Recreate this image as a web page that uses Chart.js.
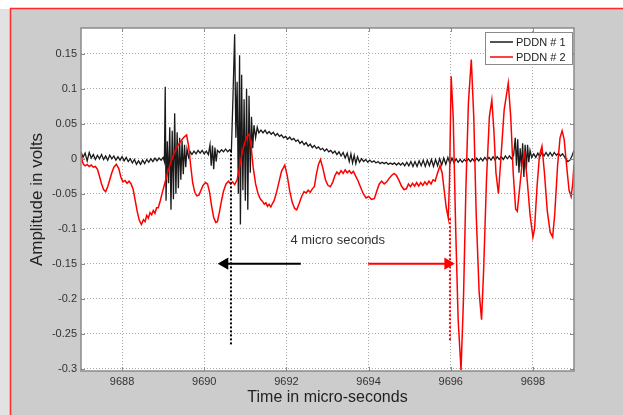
<!DOCTYPE html>
<html>
<head>
<meta charset="utf-8">
<script src="https://cdn.jsdelivr.net/npm/chart.js@4.4.1/dist/chart.umd.min.js"></script>
<style>
  html, body { margin: 0; padding: 0; background: #fff; }
  #wrap { width: 623px; height: 415px; position: relative; }
</style>
</head>
<body>
<div id="wrap"><canvas id="pddnChart"></canvas></div>
<script>
// [time in micro seconds, amplitude in volts]
const pddn1 = [
  [9687.00, 0.010], [9687.05, 0.002], [9687.10, 0.008], [9687.15, -0.003], [9687.20, 0.009],
  [9687.25, 0.001], [9687.30, 0.006], [9687.35, -0.001], [9687.40, 0.005], [9687.45, 0.000],
  [9687.50, 0.006], [9687.55, -0.001], [9687.60, 0.004], [9687.65, -0.002], [9687.70, 0.005],
  [9687.75, 0.000], [9687.80, 0.004], [9687.85, -0.002], [9687.90, 0.003], [9687.95, -0.002],
  [9688.00, 0.003], [9688.05, -0.003], [9688.10, 0.002], [9688.15, -0.004], [9688.20, 0.000],
  [9688.25, -0.006], [9688.30, -0.001], [9688.35, -0.008], [9688.40, -0.003], [9688.45, -0.008],
  [9688.50, -0.002], [9688.55, -0.007], [9688.60, -0.001], [9688.65, -0.005], [9688.70, 0.000],
  [9688.75, -0.004], [9688.80, 0.001], [9688.85, -0.003], [9688.90, 0.001], [9688.95, -0.002],
  [9689.00, 0.002], [9689.03, -0.004], [9689.05, 0.103], [9689.07, -0.060], [9689.10, 0.025],
  [9689.13, -0.035], [9689.16, 0.045], [9689.19, -0.073], [9689.22, 0.040], [9689.25, -0.058],
  [9689.28, 0.065], [9689.31, -0.050], [9689.34, 0.038], [9689.37, -0.042], [9689.40, 0.030],
  [9689.43, -0.030], [9689.46, 0.026], [9689.49, -0.022], [9689.52, 0.020], [9689.55, -0.012],
  [9689.58, 0.014], [9689.62, 0.002], [9689.66, 0.010], [9689.70, 0.006], [9689.75, 0.011],
  [9689.80, 0.007], [9689.85, 0.012], [9689.90, 0.008], [9689.95, 0.012], [9690.00, 0.007],
  [9690.05, 0.011], [9690.10, 0.006], [9690.14, 0.020], [9690.17, -0.010], [9690.20, 0.019],
  [9690.23, -0.015], [9690.26, 0.016], [9690.29, -0.004], [9690.32, 0.012], [9690.37, 0.009],
  [9690.42, 0.013], [9690.47, 0.010], [9690.52, 0.014], [9690.57, 0.010], [9690.62, 0.013],
  [9690.66, 0.010], [9690.70, 0.090], [9690.74, 0.178], [9690.77, 0.030], [9690.80, 0.110],
  [9690.83, -0.050], [9690.86, 0.148], [9690.88, -0.094], [9690.91, 0.120], [9690.94, -0.045],
  [9690.97, 0.085], [9691.00, -0.060], [9691.03, 0.100], [9691.06, -0.073], [9691.09, 0.090],
  [9691.12, -0.020], [9691.15, 0.060], [9691.18, 0.015], [9691.21, 0.048], [9691.25, 0.030],
  [9691.29, 0.045], [9691.33, 0.037], [9691.38, 0.041], [9691.43, 0.037], [9691.48, 0.041],
  [9691.53, 0.036], [9691.58, 0.039], [9691.63, 0.035], [9691.68, 0.038], [9691.73, 0.033],
  [9691.78, 0.036], [9691.83, 0.032], [9691.88, 0.034], [9691.93, 0.030], [9691.98, 0.032],
  [9692.03, 0.028], [9692.08, 0.031], [9692.13, 0.027], [9692.18, 0.029], [9692.23, 0.025],
  [9692.28, 0.027], [9692.33, 0.022], [9692.38, 0.025], [9692.43, 0.020], [9692.48, 0.023],
  [9692.53, 0.018], [9692.58, 0.021], [9692.63, 0.016], [9692.68, 0.019], [9692.73, 0.015],
  [9692.78, 0.017], [9692.83, 0.013], [9692.88, 0.015], [9692.93, 0.011], [9692.98, 0.014],
  [9693.03, 0.010], [9693.08, 0.012], [9693.13, 0.008], [9693.18, 0.011], [9693.23, 0.006],
  [9693.28, 0.010], [9693.33, 0.004], [9693.38, 0.009], [9693.43, 0.001], [9693.48, 0.008],
  [9693.53, -0.004], [9693.57, 0.007], [9693.61, -0.006], [9693.65, 0.005], [9693.69, -0.007],
  [9693.73, 0.003], [9693.78, -0.005], [9693.83, 0.000], [9693.88, -0.004], [9693.93, -0.001],
  [9693.98, -0.005], [9694.03, -0.002], [9694.08, -0.005], [9694.13, -0.003], [9694.18, -0.006],
  [9694.23, -0.004], [9694.28, -0.007], [9694.33, -0.005], [9694.38, -0.007], [9694.43, -0.005],
  [9694.48, -0.008], [9694.53, -0.006], [9694.58, -0.008], [9694.63, -0.006], [9694.68, -0.009],
  [9694.73, -0.006], [9694.78, -0.009], [9694.83, -0.006], [9694.88, -0.010], [9694.93, -0.005],
  [9694.98, -0.010], [9695.03, -0.004], [9695.08, -0.011], [9695.13, -0.004], [9695.18, -0.011],
  [9695.23, -0.003], [9695.28, -0.010], [9695.33, -0.002], [9695.38, -0.011], [9695.43, -0.002],
  [9695.48, -0.010], [9695.53, -0.001], [9695.58, -0.011], [9695.63, -0.001], [9695.68, -0.010],
  [9695.73, 0.000], [9695.78, -0.009], [9695.83, 0.001], [9695.88, -0.008], [9695.93, 0.002],
  [9695.98, -0.007], [9696.03, 0.001], [9696.08, -0.006], [9696.13, 0.000], [9696.18, -0.005],
  [9696.23, -0.001], [9696.28, -0.005], [9696.33, -0.001], [9696.38, -0.004], [9696.43, 0.000],
  [9696.48, -0.004], [9696.53, 0.000], [9696.58, -0.004], [9696.63, 0.001], [9696.68, -0.003],
  [9696.73, 0.001], [9696.78, -0.003], [9696.83, 0.002], [9696.88, -0.002], [9696.93, 0.002],
  [9696.98, -0.002], [9697.03, 0.003], [9697.08, -0.002], [9697.13, 0.003], [9697.18, -0.001],
  [9697.23, 0.003], [9697.28, -0.001], [9697.33, 0.004], [9697.38, 0.000], [9697.43, 0.004],
  [9697.48, 0.000], [9697.53, 0.005], [9697.57, 0.030], [9697.60, -0.010], [9697.63, 0.028],
  [9697.66, -0.020], [9697.69, 0.015], [9697.72, -0.012], [9697.75, 0.022], [9697.78, -0.026],
  [9697.81, 0.020], [9697.84, -0.015], [9697.87, 0.020], [9697.90, -0.005], [9697.93, 0.012],
  [9697.97, 0.002], [9698.02, 0.007], [9698.07, 0.002], [9698.12, 0.008], [9698.17, 0.003],
  [9698.22, 0.009], [9698.27, 0.004], [9698.32, 0.009], [9698.37, 0.004], [9698.42, 0.009],
  [9698.47, 0.004], [9698.52, 0.009], [9698.57, 0.005], [9698.62, 0.008], [9698.67, 0.004],
  [9698.72, 0.007], [9698.78, 0.002], [9698.85, -0.004], [9698.90, -0.002], [9698.95, 0.004],
  [9699.00, 0.012]
];

const pddn2 = [
  [9687.00, 0.008], [9687.03, -0.003], [9687.06, -0.008], [9687.10, -0.010], [9687.15, -0.008],
  [9687.20, -0.011], [9687.25, -0.009], [9687.30, -0.012], [9687.35, -0.011], [9687.40, -0.015],
  [9687.45, -0.025], [9687.50, -0.036], [9687.55, -0.044], [9687.60, -0.047], [9687.65, -0.040],
  [9687.70, -0.030], [9687.75, -0.020], [9687.80, -0.012], [9687.86, -0.008], [9687.92, -0.014],
  [9687.97, -0.026], [9688.02, -0.033], [9688.07, -0.031], [9688.12, -0.035], [9688.17, -0.032],
  [9688.22, -0.036], [9688.27, -0.044], [9688.32, -0.060], [9688.37, -0.076], [9688.42, -0.088],
  [9688.47, -0.094], [9688.52, -0.087], [9688.56, -0.090], [9688.60, -0.081], [9688.64, -0.085],
  [9688.68, -0.077], [9688.72, -0.080], [9688.76, -0.074], [9688.80, -0.078], [9688.84, -0.070],
  [9688.88, -0.070], [9688.93, -0.060], [9688.98, -0.048], [9689.04, -0.035], [9689.10, -0.021],
  [9689.17, -0.008], [9689.24, 0.004], [9689.31, 0.014], [9689.38, 0.021], [9689.45, 0.027],
  [9689.51, 0.031], [9689.57, 0.034], [9689.62, 0.018], [9689.67, -0.010], [9689.72, -0.035],
  [9689.77, -0.048], [9689.82, -0.053], [9689.87, -0.052], [9689.92, -0.045], [9689.97, -0.038],
  [9690.03, -0.034], [9690.08, -0.036], [9690.13, -0.048], [9690.18, -0.068], [9690.23, -0.084],
  [9690.28, -0.091], [9690.32, -0.090], [9690.37, -0.076], [9690.42, -0.060], [9690.47, -0.046],
  [9690.53, -0.036], [9690.59, -0.032], [9690.64, -0.036], [9690.69, -0.033], [9690.74, -0.037],
  [9690.80, -0.030], [9690.86, -0.012], [9690.92, 0.008], [9690.98, 0.022], [9691.04, 0.032],
  [9691.09, 0.035], [9691.14, 0.018], [9691.19, -0.012], [9691.25, -0.036], [9691.31, -0.050],
  [9691.37, -0.058], [9691.42, -0.061], [9691.46, -0.065], [9691.50, -0.063], [9691.54, -0.068],
  [9691.58, -0.065], [9691.62, -0.069], [9691.66, -0.064], [9691.70, -0.060], [9691.76, -0.048],
  [9691.82, -0.033], [9691.88, -0.018], [9691.96, -0.009], [9692.02, -0.024], [9692.08, -0.046],
  [9692.14, -0.062], [9692.20, -0.071], [9692.25, -0.073], [9692.31, -0.064], [9692.37, -0.054],
  [9692.43, -0.047], [9692.48, -0.049], [9692.53, -0.045], [9692.58, -0.048], [9692.63, -0.043],
  [9692.68, -0.040], [9692.73, -0.022], [9692.78, -0.008], [9692.83, -0.001], [9692.89, -0.014],
  [9692.95, -0.030], [9693.01, -0.038], [9693.07, -0.040], [9693.13, -0.033], [9693.18, -0.024],
  [9693.23, -0.019], [9693.28, -0.022], [9693.33, -0.017], [9693.38, -0.021], [9693.43, -0.016],
  [9693.48, -0.020], [9693.53, -0.017], [9693.58, -0.021], [9693.63, -0.018], [9693.68, -0.024],
  [9693.74, -0.031], [9693.80, -0.040], [9693.87, -0.050], [9693.94, -0.056], [9694.00, -0.054],
  [9694.07, -0.058], [9694.14, -0.057], [9694.20, -0.046], [9694.26, -0.036], [9694.32, -0.032],
  [9694.38, -0.036], [9694.44, -0.033], [9694.50, -0.028], [9694.56, -0.024], [9694.62, -0.021],
  [9694.68, -0.024], [9694.74, -0.031], [9694.80, -0.039], [9694.86, -0.044], [9694.92, -0.043],
  [9694.97, -0.036], [9695.02, -0.040], [9695.07, -0.035], [9695.12, -0.039], [9695.17, -0.034],
  [9695.22, -0.039], [9695.27, -0.034], [9695.32, -0.038], [9695.37, -0.033], [9695.42, -0.037],
  [9695.47, -0.032], [9695.52, -0.036], [9695.57, -0.030], [9695.62, -0.032], [9695.68, -0.020],
  [9695.74, -0.010], [9695.79, -0.020], [9695.84, -0.045], [9695.89, -0.070], [9695.94, -0.085],
  [9695.97, -0.030], [9696.01, 0.118], [9696.06, 0.060], [9696.12, -0.100], [9696.18, -0.230],
  [9696.25, -0.302], [9696.31, -0.200], [9696.37, -0.040], [9696.43, 0.080], [9696.50, 0.142],
  [9696.56, 0.060], [9696.62, -0.080], [9696.69, -0.190], [9696.75, -0.230], [9696.80, -0.160],
  [9696.87, -0.030], [9696.94, 0.060], [9697.00, 0.084], [9697.05, 0.040], [9697.10, -0.020],
  [9697.16, -0.050], [9697.22, 0.000], [9697.30, 0.070], [9697.40, 0.108], [9697.46, 0.060],
  [9697.52, -0.020], [9697.58, -0.072], [9697.62, -0.075], [9697.68, -0.040], [9697.74, -0.005],
  [9697.80, 0.008], [9697.86, -0.030], [9697.93, -0.080], [9698.00, -0.112], [9698.04, -0.100],
  [9698.10, -0.040], [9698.16, 0.005], [9698.22, 0.018], [9698.28, -0.020], [9698.35, -0.075],
  [9698.42, -0.105], [9698.48, -0.112], [9698.53, -0.080], [9698.60, -0.010], [9698.66, 0.030],
  [9698.71, 0.040], [9698.76, 0.028], [9698.82, -0.010], [9698.88, -0.045], [9698.93, -0.054],
  [9698.97, -0.035], [9699.00, -0.008]
];

const seriesNames = ['PDDN # 1', 'PDDN # 2'];
const xTicks = [9688, 9690, 9692, 9694, 9696, 9698];
const yTicks = [0.15, 0.1, 0.05, 0, -0.05, -0.1, -0.15, -0.2, -0.25, -0.3];

// arrival markers and the 4 us arrows
const marker1 = [[9690.65, 0.012], [9690.65, -0.266]];
const marker2 = [[9695.98, -0.085], [9695.98, -0.260]];
const arrow1 = [[9692.35, -0.15], [9690.50, -0.15]];
const arrow2 = [[9693.99, -0.15], [9695.93, -0.15]];
const delayLabel = { text: '4 micro seconds', x: 9693.25, y: -0.1165 };

const FONT = '"Liberation Sans", Arial, sans-serif';
Chart.defaults.font.family = FONT;

const toXY = arr => arr.map(p => ({ x: p[0], y: p[1] }));

var figureBack = {
  id: 'figureBack',
  beforeDraw: function (chart) {
    const ctx = chart.ctx, w = chart.width, h = chart.height, a = chart.chartArea;
    ctx.save();
    ctx.fillStyle = '#ffffff';
    ctx.fillRect(0, 0, w, h);
    ctx.fillStyle = '#e2e2e2';
    ctx.fillRect(0, 9, 10, h - 9);
    ctx.fillStyle = '#cccccc';
    ctx.fillRect(11, 9, w - 11, h - 9);
    ctx.strokeStyle = '#ff2a2a';
    ctx.lineWidth = 1.5;
    ctx.beginPath();
    ctx.moveTo(10, 8.5); ctx.lineTo(w, 8.5);
    ctx.moveTo(10.5, 8); ctx.lineTo(10.5, h);
    ctx.stroke();
    ctx.fillStyle = '#ffffff';
    ctx.fillRect(a.left, a.top, a.right - a.left, a.bottom - a.top);
    ctx.restore();
  }
};

var overlay = {
  id: 'overlay',
  afterDatasetsDraw: function (chart) {
    const ctx = chart.ctx, sx = chart.scales.x, sy = chart.scales.y;
    ctx.save();
    ctx.fillStyle = '#333';
    ctx.font = '13px ' + FONT;
    ctx.textAlign = 'center';
    ctx.textBaseline = 'middle';
    ctx.fillText(delayLabel.text, sx.getPixelForValue(delayLabel.x), sy.getPixelForValue(delayLabel.y));
    ctx.restore();
  },
  afterDraw: function (chart) {
    const ctx = chart.ctx, a = chart.chartArea, sx = chart.scales.x, sy = chart.scales.y;
    ctx.save();
    // axes box with inner tick marks
    ctx.strokeStyle = '#8a8a8a';
    ctx.lineWidth = 1.5;
    ctx.strokeRect(a.left, a.top, a.right - a.left, a.bottom - a.top);
    ctx.lineWidth = 1;
    ctx.beginPath();
    xTicks.forEach(function (v) {
      const px = Math.round(sx.getPixelForValue(v)) + 0.5;
      ctx.moveTo(px, a.bottom); ctx.lineTo(px, a.bottom - 4);
      ctx.moveTo(px, a.top); ctx.lineTo(px, a.top + 4);
    });
    yTicks.forEach(function (v) {
      const py = Math.round(sy.getPixelForValue(v)) + 0.5;
      ctx.moveTo(a.left, py); ctx.lineTo(a.left + 4, py);
      ctx.moveTo(a.right, py); ctx.lineTo(a.right - 4, py);
    });
    ctx.stroke();

    // legend box
    const bw = 87, bh = 32;
    const bx = a.right - 89, by = a.top + 4;
    ctx.fillStyle = '#fff';
    ctx.fillRect(bx, by, bw, bh);
    ctx.strokeStyle = '#8a8a8a';
    ctx.strokeRect(bx + 0.5, by + 0.5, bw, bh);
    ctx.font = '11px ' + FONT;
    ctx.textAlign = 'left';
    ctx.textBaseline = 'middle';
    seriesNames.forEach(function (name, i) {
      const ds = chart.data.datasets.find(d => d.label === name);
      const ry = by + 10 + i * 15;
      ctx.strokeStyle = ds.borderColor;
      ctx.lineWidth = 1.5;
      ctx.beginPath();
      ctx.moveTo(bx + 5, ry); ctx.lineTo(bx + 28, ry);
      ctx.stroke();
      ctx.fillStyle = '#222';
      ctx.fillText(name, bx + 31, ry + 0.5);
    });
    ctx.restore();
  }
};

const gridOpts = { color: '#a8a8a8', lineWidth: 1, drawTicks: false };
const borderOpts = { display: false, dash: [1, 2] };

new Chart(document.getElementById('pddnChart'), {
  type: 'line',
  data: {
    datasets: [
      { label: 'arrow2', data: toXY(arrow2), borderColor: '#ff0000', backgroundColor: '#ff0000',
        borderWidth: 2, pointRadius: [0, 5], pointStyle: 'triangle', pointRotation: 90, order: 0 },
      { label: 'arrow1', data: toXY(arrow1), borderColor: '#000', backgroundColor: '#000',
        borderWidth: 2, pointRadius: [0, 5], pointStyle: 'triangle', pointRotation: -90, order: 0 },
      { label: 'marker2', data: toXY(marker2), borderColor: '#ff0000', borderWidth: 2,
        borderDash: [2, 2], pointRadius: 0, order: 0 },
      { label: 'marker1', data: toXY(marker1), borderColor: '#000', borderWidth: 2,
        borderDash: [2, 2], pointRadius: 0, order: 0 },
      { label: seriesNames[1], data: toXY(pddn2), borderColor: '#ff0000', borderWidth: 1.5,
        pointRadius: 0, order: 1 },
      { label: seriesNames[0], data: toXY(pddn1), borderColor: '#1a1a1a', borderWidth: 1.3,
        pointRadius: 0, order: 2 }
    ]
  },
  options: {
    responsive: true,
    maintainAspectRatio: false,
    animation: false,
    events: [],
    layout: { padding: { top: 28, right: 49, bottom: 0, left: 0 } },
    elements: { line: { tension: 0 } },
    plugins: {
      legend: { display: false },
      tooltip: { enabled: false }
    },
    scales: {
      x: {
        type: 'linear',
        min: 9687,
        max: 9699,
        afterBuildTicks: function (s) { s.ticks = xTicks.map(v => ({ value: v })); },
        afterFit: function (s) { s.height = 44; },
        ticks: {
          autoSkip: false, maxRotation: 0, padding: 4, color: '#333',
          font: { size: 11 },
          callback: v => String(v)
        },
        grid: gridOpts,
        border: borderOpts,
        title: {
          display: true, text: 'Time in micro-seconds', color: '#222',
          font: { size: 16 }, padding: { top: 0, bottom: 8 }
        }
      },
      y: {
        type: 'linear',
        min: -0.3035,
        max: 0.187,
        afterBuildTicks: function (s) { s.ticks = yTicks.map(v => ({ value: v })); },
        afterFit: function (s) { s.width = 81; },
        ticks: {
          padding: 4, color: '#333',
          font: { size: 11 },
          callback: v => String(+v.toFixed(2))
        },
        grid: gridOpts,
        border: borderOpts,
        title: {
          display: true, text: 'Amplitude in volts', color: '#222',
          font: { size: 17 }, padding: { top: 27, bottom: 0 }
        }
      }
    }
  },
  plugins: [figureBack, overlay]
});
</script>
</body>
</html>
